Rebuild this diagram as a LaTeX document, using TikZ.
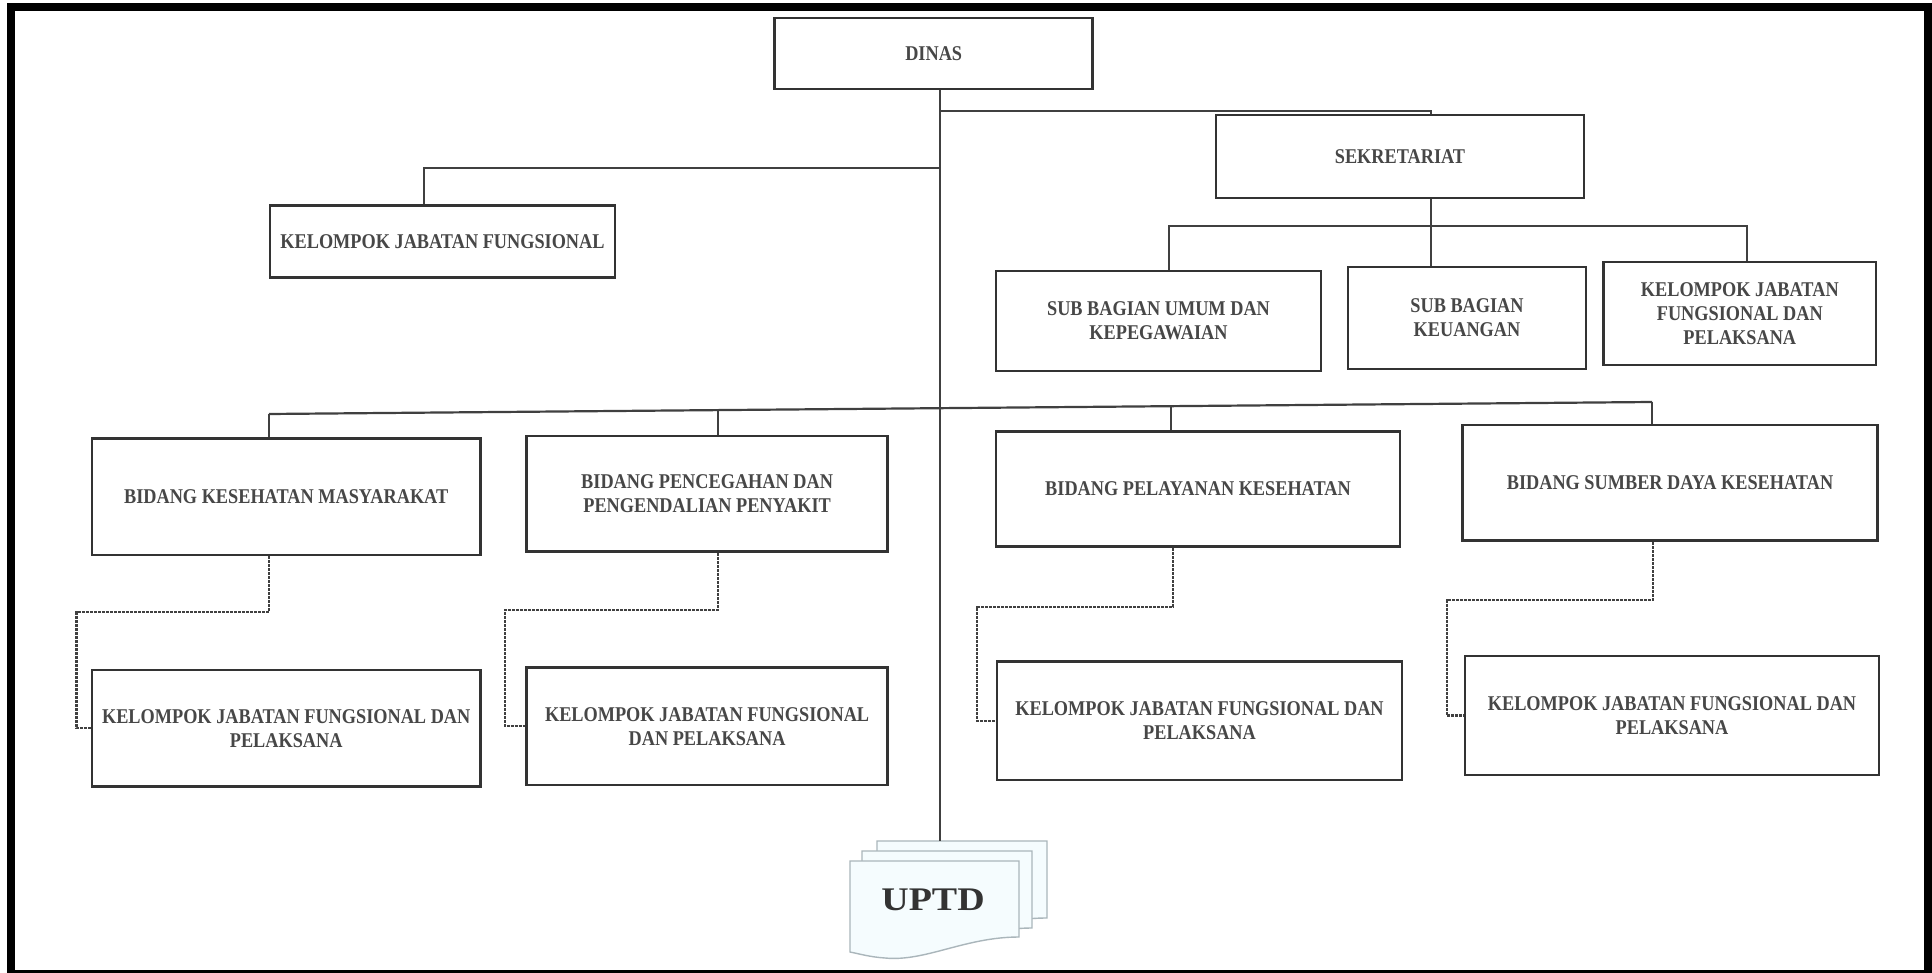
\documentclass[tikz,border=0pt]{standalone}
\usepackage{fontspec}
\setmainfont{Liberation Serif}[FakeStretch=0.87]
\newfontfamily\uptdfont{Liberation Serif}[FakeStretch=1.15]
\tikzset{
  box/.style={draw=black!80, line width=2.6pt, fill=white, align=center, inner sep=2pt,
    font=\fontsize{21}{24}\selectfont\bfseries, text=black!72},
  conn/.style={draw=black!75, line width=2.2pt},
  subconn/.style={conn, dash pattern=on 3pt off 1pt},
  page/.style={draw=cyan!25!black!40, fill=cyan!4, line width=1.4pt},
  frame/.style={draw=black, line width=8pt}
}
\begin{document}
\begin{tikzpicture}[x=1pt,y=-1pt]
\useasboundingbox (0,0) rectangle (1932,973);
\fill[white] (0,0) rectangle (1932,973);
\draw[frame] (10.5,7) rectangle (1928,974);

% boxes
\node[box, minimum width=318pt, minimum height=71pt] (dinas) at (933.7,53.7) {DINAS};
\node[box, minimum width=345pt, minimum height=72pt] (kjf) at (442.5,241.7) {KELOMPOK JABATAN FUNGSIONAL};
\node[box, minimum width=368pt, minimum height=83pt] (sek) at (1400,156.5) {SEKRETARIAT};
\node[box, minimum width=325pt, minimum height=100pt] (sbuk) at (1158.5,321) {SUB BAGIAN UMUM DAN\\KEPEGAWAIAN};
\node[box, minimum width=238pt, minimum height=102pt] (sbk) at (1467,318) {SUB BAGIAN\\KEUANGAN};
\node[box, minimum width=272.5pt, minimum height=103pt] (kjfs) at (1739.8,313.5) {KELOMPOK JABATAN\\FUNGSIONAL DAN\\PELAKSANA};
\node[box, minimum width=388.8pt, minimum height=116.7pt] (bkm) at (286.2,496.7) {BIDANG KESEHATAN MASYARAKAT};
\node[box, minimum width=361.2pt, minimum height=115.5pt] (bppp) at (707.1,493.8) {BIDANG PENCEGAHAN DAN\\PENGENDALIAN PENYAKIT};
\node[box, minimum width=404pt, minimum height=115pt] (bpk) at (1198,489) {BIDANG PELAYANAN KESEHATAN};
\node[box, minimum width=414.5pt, minimum height=115.7pt] (bsdk) at (1670,482.9) {BIDANG SUMBER DAYA KESEHATAN};
\node[box, minimum width=388.8pt, minimum height=116.7pt] (k1) at (286.2,728.3) {KELOMPOK JABATAN FUNGSIONAL DAN\\PELAKSANA};
\node[box, minimum width=361.2pt, minimum height=117.7pt] (k2) at (707.1,726.2) {KELOMPOK JABATAN FUNGSIONAL\\DAN PELAKSANA};
\node[box, minimum width=405pt, minimum height=118.3pt] (k3) at (1199.5,720.8) {KELOMPOK JABATAN FUNGSIONAL DAN\\PELAKSANA};
\node[box, minimum width=414pt, minimum height=119pt] (k4) at (1672,715.5) {KELOMPOK JABATAN FUNGSIONAL DAN\\PELAKSANA};

% UPTD stack
\draw[page] (877,841) -- (1047,841) -- (1047,918) .. controls (1000,918) and (960,935) .. (877,930) -- cycle;
\draw[page] (862,851) -- (1032,851) -- (1032,928) .. controls (985,928) and (945,948) .. (862,940) -- cycle;
\draw[page] (850,861) -- (1019,861) -- (1019,937) .. controls (965,937) and (925,962) .. (885,958) .. controls (870,957) and (860,954) .. (850,952) -- cycle;
\node[font={\uptdfont\bfseries\fontsize{33}{36}\selectfont}, text=black!80] (uptd) at (933,900) {UPTD};
\coordinate (uptdtop) at (940,841);

% main connectors
\draw[conn] ([xshift=6.3pt]dinas.south) -- (uptdtop);
\coordinate (jk) at (940,168);
\draw[conn] (jk) -| ([xshift=-18.5pt]kjf.north);
\coordinate (js) at (940,111);
\draw[conn] (js) -| ([xshift=31pt]sek.north);

% sekretariat branch
\coordinate (sb) at (1431,226);
\draw[conn] ([xshift=31pt]sek.south) -- (sb);
\draw[conn] (sb) -| ([xshift=10.5pt]sbuk.north);
\draw[conn] (sb) -- ([xshift=-36pt]sbk.north);
\draw[conn] (sb) -| ([xshift=7.2pt]kjfs.north);

% bidang bar
\coordinate (bl) at (269,414);
\coordinate (br) at (1652,402);
\coordinate (b2) at (718,410.1);
\coordinate (b3) at (1171,406.2);
\draw[conn] (bl) -- (br);
\draw[conn] (bl) -- ([xshift=-17.2pt]bkm.north);
\draw[conn] (b2) -- ([xshift=10.9pt]bppp.north);
\draw[conn] (b3) -- ([xshift=-27pt]bpk.north);
\draw[conn] (br) -- ([xshift=-18pt]bsdk.north);

% bidang to kelompok
\coordinate (e1) at (76.5,612);
\coordinate (e2) at (505,610);
\coordinate (e3) at (976.7,606.7);
\coordinate (e4) at (1446.6,600);
\draw[subconn] ([xshift=-17.2pt]bkm.south) |- (e1) |- (k1.west);
\draw[subconn] ([xshift=10.9pt]bppp.south) |- (e2) |- (k2.west);
\draw[subconn] ([xshift=-25.4pt]bpk.south) |- (e3) |- (k3.west);
\draw[subconn] ([xshift=-17pt]bsdk.south) |- (e4) |- (k4.west);
\end{tikzpicture}
\end{document}
